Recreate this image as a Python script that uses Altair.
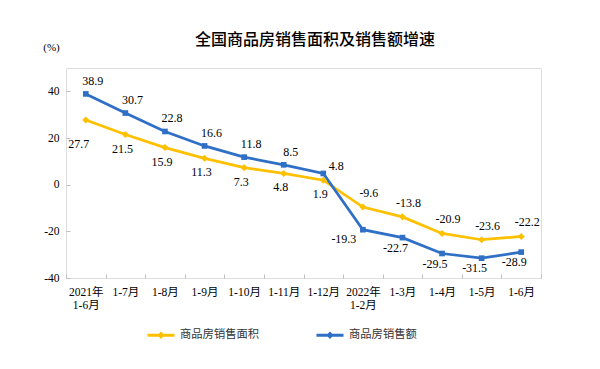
import altair as alt
import pandas as pd

# ---- data ----
title_text = "全国商品房销售面积及销售额增速"
categories = ["2021年|1-6月", "1-7月", "1-8月", "1-9月", "1-10月", "1-11月",
              "1-12月", "2022年|1-2月", "1-3月", "1-4月", "1-5月", "1-6月"]
area_growth = [27.7, 21.5, 15.9, 11.3, 7.3, 4.8, 1.9, -9.6, -13.8, -20.9, -23.6, -22.2]
sales_growth = [38.9, 30.7, 22.8, 16.6, 11.8, 8.5, 4.8, -19.3, -22.7, -29.5, -31.5, -28.9]
series_names = ["商品房销售面积", "商品房销售额"]
y_ticks = [-40, -20, 0, 20, 40]

rows = []
for s, vals in zip(series_names, [area_growth, sales_growth]):
    for i, (c, v) in enumerate(zip(categories, vals)):
        rows.append({"series": s, "idx": i, "cat": c, "value": v})
df = pd.DataFrame(rows)

YELLOW = "#FFC000"
BLUE = "#2F6FC6"
GRAY = "#BFBFBF"
NUM_FONT = "Liberation Serif, Noto Sans CJK SC"
CJK_FONT = "Noto Sans CJK SC"
MINUS_FIX = "replace(datum.label, '\u2212', '-')"

x_enc = alt.X(
    "cat:N", sort=categories,
    scale=alt.Scale(type="band", paddingInner=0, paddingOuter=0),
    axis=alt.Axis(
        title=None, labelAngle=0, labelExpr="split(datum.label, '|')",
        tickBand="extent", offset=-4, domain=False, tickSize=4,
        tickColor=GRAY, labelPadding=8, labelFont=NUM_FONT, labelFontSize=11.5,
        labelLineHeight=13, labelColor="#000",
    ),
)
y_enc = alt.Y(
    "value:Q", scale=alt.Scale(domain=[-40, 50], nice=False, zero=False),
    axis=alt.Axis(
        values=y_ticks, grid=False, domain=False, tickSize=4, offset=-4,
        tickColor=GRAY, labelPadding=7, labelFont=NUM_FONT, labelFontSize=11.5,
        labelColor="#000", labelExpr=MINUS_FIX,
        title="(%)", titleAngle=0, titleX=-19, titleY=-21, titleAlign="center",
        titleBaseline="middle", titleFont=NUM_FONT, titleFontSize=11,
        titleFontWeight="normal", titleColor="#000",
    ),
)

legend_path = "M-1,0L1,0M0,-0.12L0.12,0L0,0.12L-0.12,0Z"

base = alt.Chart(df)

lines = base.mark_line(strokeWidth=2.75).encode(
    x=x_enc, y=y_enc,
    color=alt.Color(
        "series:N",
        scale=alt.Scale(domain=series_names, range=[YELLOW, BLUE]),
        legend=alt.Legend(
            orient="none", legendX=80, legendY=252, direction="horizontal",
            title=None, labelFont=CJK_FONT, labelFontSize=11.3, labelOffset=4,
            columnPadding=50, symbolType=legend_path, symbolSize=729,
            symbolStrokeWidth=3, labelColor="#333",
        ),
    ),
    detail="series:N",
)

pts_area = base.transform_filter(f"datum.series == '{series_names[0]}'").mark_point(
    shape="diamond", filled=True, size=50, opacity=1, color=YELLOW
).encode(x=x_enc, y=y_enc)
pts_sales = base.transform_filter(f"datum.series == '{series_names[1]}'").mark_point(
    shape="square", filled=True, size=32, opacity=1, color=BLUE
).encode(x=x_enc, y=y_enc)


def labels(series, idxs, dx, dy):
    cond = f"datum.series == '{series}' && indexof({idxs}, datum.idx) >= 0"
    return base.transform_filter(cond).transform_calculate(
        lbl="replace(format(datum.value, '.1f'), '\u2212', '-')"
    ).mark_text(
        dx=dx, dy=dy, font=NUM_FONT, fontSize=12, color="#000", baseline="middle"
    ).encode(x=x_enc, y=y_enc, text="lbl:N")


text_layers = [
    labels(series_names[1], [0, 1, 2, 3, 4, 5], 7, -13),
    labels(series_names[1], [6], 13, -7),
    labels(series_names[1], [7], -19, 9),
    labels(series_names[1], [8, 9, 10, 11], -7, 10),
    labels(series_names[0], [0], -7, 24),
    labels(series_names[0], [1, 2, 3, 4, 5, 6], -3, 14),
    labels(series_names[0], [7, 8, 9, 10, 11], 6, -14),
]

title_layer = alt.Chart(pd.DataFrame({"t": [title_text]})).mark_text(
    font=CJK_FONT, fontSize=16, fontWeight=500, color="#000",
    align="center", baseline="middle",
).encode(text="t:N", x=alt.value(249), y=alt.value(-28))

chart = alt.layer(lines, pts_area, pts_sales, *text_layers, title_layer).properties(
    width=475, height=210,
    autosize=alt.AutoSizeParams(type="none"),
    padding={"left": 58, "top": 60, "right": 51, "bottom": 83},
).configure_view(stroke=GRAY, strokeWidth=1).configure(background="white")

chart.save("out.html", embed_options={"renderer": "svg", "actions": False})
